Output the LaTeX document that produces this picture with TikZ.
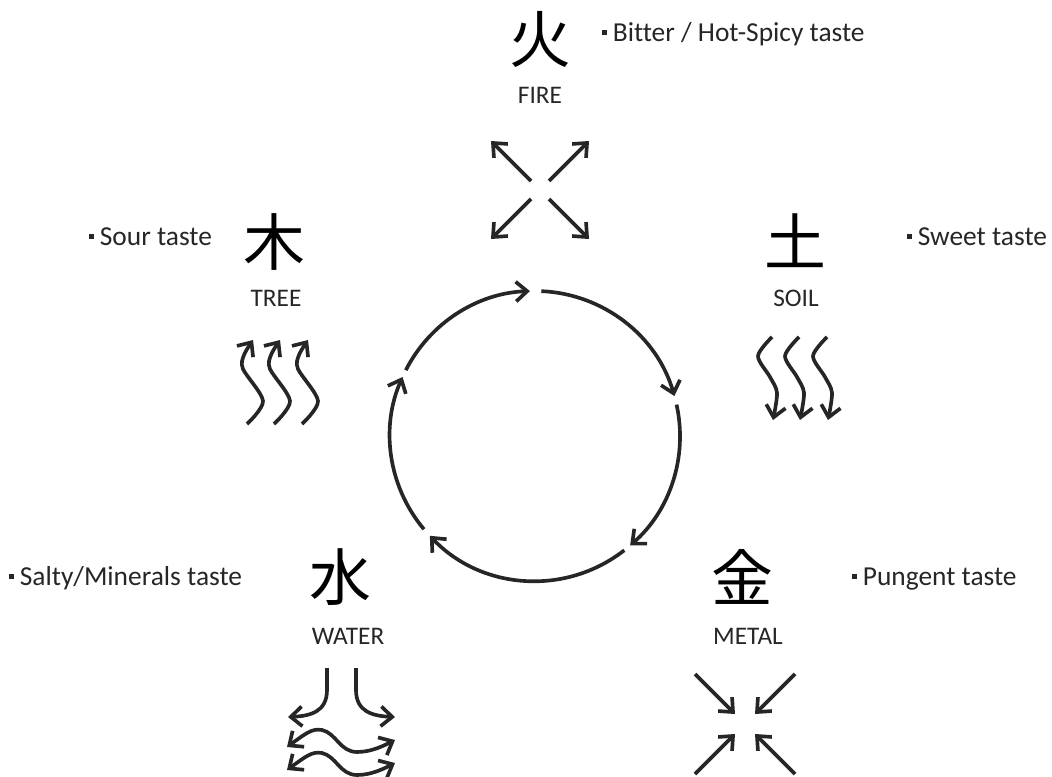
\documentclass[tikz,border=0pt]{standalone}
\usepackage{fontspec}
\setmainfont{Carlito}[Ligatures={NoCommon}]
\newfontfamily\cjk{Noto Sans CJK JP}
\usetikzlibrary{arrows.meta,positioning}
\definecolor{ink}{RGB}{38,38,38}
\newcommand{\tdot}{\raisebox{4.5pt}{\rule{3.5pt}{3.5pt}}\hspace{4pt}}

\begin{document}
\begin{tikzpicture}[x=0.025cm,y=-0.025cm,
>={Straight Barb[length=8pt,width=14pt]},
kanji/.style={inner sep=0pt,font=\cjk\fontsize{44}{44}\selectfont},
elem/.style={anchor=base,inner sep=0pt,text=ink,font=\fontsize{18}{21}\selectfont},
taste/.style={anchor=base west,inner sep=0pt,text=ink,font=\fontsize{19.5}{23}\selectfont},
flow/.style={draw=ink,line width=2.6pt,->}]
\clip (0,0) rectangle (1052,776);

\node[kanji] (kfire) at (540,39) {火};
\node[elem] (fire) at (540,103) {FIRE};
\node[taste] (tfire) at (602,41) {\tdot Bitter / Hot-Spicy taste};

\node[kanji] (ktree) at (274,242) {木};
\node[elem] (tree) at (276,306) {TREE};
\node[taste] (ttree) at (89,245) {\tdot Sour taste};

\node[kanji] (ksoil) at (795,241) {土};
\node[elem] (soil) at (796,306) {SOIL};
\node[taste] (tsoil) at (907,245) {\tdot Sweet taste};

\node[kanji] (kwater) at (340,577) {水};
\node[elem] (water) at (348,644) {WATER};
\node[taste] (twater) at (9,585) {\tdot Salty/Minerals taste};

\node[kanji] (kmetal) at (742,577) {金};
\node[elem] (metal) at (748,644) {METAL};
\node[taste] (tmetal) at (852,585) {\tdot Pungent taste};

\coordinate (c) at (535,436);
\foreach \a/\b in {-87.5/-16,-12.5/49,52/136.5,140/204,207/268}
  \draw[flow] (c) ++(\a:145) arc[start angle=\a,end angle=\b,radius=145];

\coordinate (fx) at (540,190);
\foreach \sx/\sy in {-1/-1,1/-1,-1/1,1/1}
  \draw[flow] (fx) ++(9*\sx,9*\sy) -- ++(40*\sx,40*\sy);

\coordinate (mx) at (745,724);
\foreach \sx/\sy in {-1/-1,1/-1,-1/1,1/1}
  \draw[flow] (mx) ++(50*\sx,50*\sy) -- ++(-40*\sx,-40*\sy);

\foreach \d in {0,27,55}{
  \begin{scope}[shift={(\d,0)}]
  \draw[flow] plot[smooth] coordinates {(247,424) (263,401) (243,369) (244,355) (253,340)};
  \end{scope}}

\foreach \d in {0,27,55}{
  \begin{scope}[shift={(\d,0)}]
  \draw[flow] plot[smooth] coordinates {(772,337) (758,356) (770,377) (777,393) (773,420)};
  \end{scope}}

\draw[flow] (327,668) -- (327,690) .. controls (327,712) and (310,716) .. (288,717);
\draw[flow] (356,668) -- (356,690) .. controls (356,712) and (373,716) .. (395,717);
\foreach \dy in {0,23}{
  \begin{scope}[shift={(0,\dy)}]
  \draw[flow,<->] (287,747) .. controls (305,734) and (312,728) .. (322,730)
    .. controls (336,733) and (340,752) .. (357,752)
    .. controls (372,752) and (385,745) .. (395,740);
  \end{scope}}
\end{tikzpicture}
\end{document}
